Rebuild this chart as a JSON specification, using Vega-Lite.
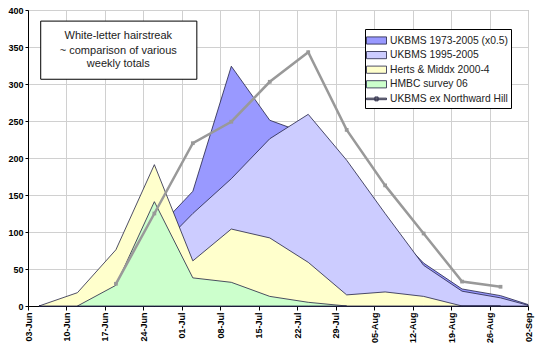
{
  "$schema": "https://vega.github.io/schema/vega-lite/v6.json",
  "width": 500,
  "height": 296,
  "autosize": {"type": "none"},
  "padding": {"left": 28, "top": 10, "right": 11, "bottom": 44},
  "background": "white",
  "config": {
    "font": "Liberation Sans",
    "view": {"stroke": "#999999", "strokeWidth": 1},
    "axis": {
      "labelFont": "Liberation Sans",
      "labelFontWeight": "bold",
      "labelFontSize": 9,
      "labelColor": "#000000",
      "tickColor": "#000000",
      "domainColor": "#000000",
      "gridColor": "#d0d0d0",
      "gridWidth": 1,
      "title": null,
      "labelOverlap": false,
      "labelFlush": false
    }
  },
  "data": {
    "values": [
      {"date": "2007-06-05", "series": "UKBMS 1973-2005 (x0.5)", "value": 0},
      {"date": "2007-06-12", "series": "UKBMS 1973-2005 (x0.5)", "value": 5},
      {"date": "2007-06-19", "series": "UKBMS 1973-2005 (x0.5)", "value": 30},
      {"date": "2007-06-26", "series": "UKBMS 1973-2005 (x0.5)", "value": 100},
      {"date": "2007-07-03", "series": "UKBMS 1973-2005 (x0.5)", "value": 155},
      {"date": "2007-07-10", "series": "UKBMS 1973-2005 (x0.5)", "value": 324},
      {"date": "2007-07-17", "series": "UKBMS 1973-2005 (x0.5)", "value": 251},
      {"date": "2007-07-24", "series": "UKBMS 1973-2005 (x0.5)", "value": 232},
      {"date": "2007-07-31", "series": "UKBMS 1973-2005 (x0.5)", "value": 180},
      {"date": "2007-08-07", "series": "UKBMS 1973-2005 (x0.5)", "value": 112},
      {"date": "2007-08-14", "series": "UKBMS 1973-2005 (x0.5)", "value": 58},
      {"date": "2007-08-21", "series": "UKBMS 1973-2005 (x0.5)", "value": 23},
      {"date": "2007-08-28", "series": "UKBMS 1973-2005 (x0.5)", "value": 14},
      {"date": "2007-09-02", "series": "UKBMS 1973-2005 (x0.5)", "value": 2},

      {"date": "2007-06-05", "series": "UKBMS 1995-2005", "value": 0},
      {"date": "2007-06-12", "series": "UKBMS 1995-2005", "value": 3},
      {"date": "2007-06-19", "series": "UKBMS 1995-2005", "value": 20},
      {"date": "2007-06-26", "series": "UKBMS 1995-2005", "value": 72},
      {"date": "2007-07-03", "series": "UKBMS 1995-2005", "value": 125},
      {"date": "2007-07-10", "series": "UKBMS 1995-2005", "value": 172},
      {"date": "2007-07-17", "series": "UKBMS 1995-2005", "value": 226},
      {"date": "2007-07-24", "series": "UKBMS 1995-2005", "value": 259},
      {"date": "2007-07-31", "series": "UKBMS 1995-2005", "value": 197},
      {"date": "2007-08-07", "series": "UKBMS 1995-2005", "value": 125},
      {"date": "2007-08-14", "series": "UKBMS 1995-2005", "value": 55},
      {"date": "2007-08-21", "series": "UKBMS 1995-2005", "value": 20},
      {"date": "2007-08-28", "series": "UKBMS 1995-2005", "value": 11},
      {"date": "2007-09-02", "series": "UKBMS 1995-2005", "value": 1},

      {"date": "2007-06-05", "series": "Herts & Middx 2000-4", "value": 0},
      {"date": "2007-06-12", "series": "Herts & Middx 2000-4", "value": 18},
      {"date": "2007-06-19", "series": "Herts & Middx 2000-4", "value": 76},
      {"date": "2007-06-26", "series": "Herts & Middx 2000-4", "value": 191},
      {"date": "2007-07-03", "series": "Herts & Middx 2000-4", "value": 61},
      {"date": "2007-07-10", "series": "Herts & Middx 2000-4", "value": 104},
      {"date": "2007-07-17", "series": "Herts & Middx 2000-4", "value": 92},
      {"date": "2007-07-24", "series": "Herts & Middx 2000-4", "value": 59},
      {"date": "2007-07-31", "series": "Herts & Middx 2000-4", "value": 15},
      {"date": "2007-08-07", "series": "Herts & Middx 2000-4", "value": 19},
      {"date": "2007-08-14", "series": "Herts & Middx 2000-4", "value": 13},
      {"date": "2007-08-21", "series": "Herts & Middx 2000-4", "value": 0},
      {"date": "2007-08-28", "series": "Herts & Middx 2000-4", "value": 0},

      {"date": "2007-06-12", "series": "HMBC survey 06", "value": 0},
      {"date": "2007-06-19", "series": "HMBC survey 06", "value": 28},
      {"date": "2007-06-26", "series": "HMBC survey 06", "value": 141},
      {"date": "2007-07-03", "series": "HMBC survey 06", "value": 38},
      {"date": "2007-07-10", "series": "HMBC survey 06", "value": 32},
      {"date": "2007-07-17", "series": "HMBC survey 06", "value": 13},
      {"date": "2007-07-24", "series": "HMBC survey 06", "value": 5},
      {"date": "2007-07-31", "series": "HMBC survey 06", "value": 0},

      {"date": "2007-06-19", "series": "UKBMS ex Northward Hill", "value": 30},
      {"date": "2007-06-26", "series": "UKBMS ex Northward Hill", "value": 125},
      {"date": "2007-07-03", "series": "UKBMS ex Northward Hill", "value": 220},
      {"date": "2007-07-10", "series": "UKBMS ex Northward Hill", "value": 249},
      {"date": "2007-07-17", "series": "UKBMS ex Northward Hill", "value": 303},
      {"date": "2007-07-24", "series": "UKBMS ex Northward Hill", "value": 343},
      {"date": "2007-07-31", "series": "UKBMS ex Northward Hill", "value": 238},
      {"date": "2007-08-07", "series": "UKBMS ex Northward Hill", "value": 163},
      {"date": "2007-08-14", "series": "UKBMS ex Northward Hill", "value": 98},
      {"date": "2007-08-21", "series": "UKBMS ex Northward Hill", "value": 33},
      {"date": "2007-08-28", "series": "UKBMS ex Northward Hill", "value": 26}
    ]
  },
  "encoding": {
    "x": {
      "field": "date",
      "type": "temporal",
      "scale": {
        "type": "utc",
        "nice": false,
        "domain": [
          {"year": 2007, "month": 6, "date": 3, "utc": true},
          {"year": 2007, "month": 9, "date": 2, "utc": true}
        ]
      },
      "axis": {
        "labelExpr": "utcFormat(datum.value, '%d-%b')",
        "labelAngle": 270,
        "tickSize": 4,
        "labelPadding": 2,
        "values": [
          {"year": 2007, "month": 6, "date": 3, "utc": true},
          {"year": 2007, "month": 6, "date": 10, "utc": true},
          {"year": 2007, "month": 6, "date": 17, "utc": true},
          {"year": 2007, "month": 6, "date": 24, "utc": true},
          {"year": 2007, "month": 7, "date": 1, "utc": true},
          {"year": 2007, "month": 7, "date": 8, "utc": true},
          {"year": 2007, "month": 7, "date": 15, "utc": true},
          {"year": 2007, "month": 7, "date": 22, "utc": true},
          {"year": 2007, "month": 7, "date": 29, "utc": true},
          {"year": 2007, "month": 8, "date": 5, "utc": true},
          {"year": 2007, "month": 8, "date": 12, "utc": true},
          {"year": 2007, "month": 8, "date": 19, "utc": true},
          {"year": 2007, "month": 8, "date": 26, "utc": true},
          {"year": 2007, "month": 9, "date": 2, "utc": true}
        ]
      }
    },
    "y": {
      "field": "value",
      "type": "quantitative",
      "stack": null,
      "scale": {"domain": [0, 400], "nice": false},
      "axis": {
        "values": [0, 50, 100, 150, 200, 250, 300, 350, 400],
        "tickSize": 3,
        "labelPadding": 2
      }
    }
  },
  "layer": [
    {
      "transform": [{"filter": "datum.series === 'UKBMS 1973-2005 (x0.5)'"}],
      "mark": {"type": "area", "stroke": "#222244", "strokeWidth": 0.8, "opacity": 1},
      "encoding": {
        "color": {
          "field": "series",
          "type": "nominal",
          "scale": {
            "domain": ["UKBMS 1973-2005 (x0.5)", "UKBMS 1995-2005", "Herts & Middx 2000-4", "HMBC survey 06", "UKBMS ex Northward Hill"],
            "range": ["#9999ff", "#ccccff", "#ffffcc", "#ccffcc", "#999999"]
          },
          "legend": {
            "orient": "none",
            "legendX": 337,
            "legendY": 19,
            "title": null,
            "direction": "vertical",
            "fillColor": "white",
            "strokeColor": "black",
            "padding": 3,
            "cornerRadius": 0,
            "symbolSize": 256,
            "symbolOpacity": 1,
            "symbolType": {"expr": "datum.value === 'UKBMS ex Northward Hill' ? 'M-1.25,-0.1H1.25V0.1H-1.25ZM-0.2,-0.25H0.2V0.25H-0.2Z' : 'M-1.25,-0.45H1.25V0.45H-1.25Z'"},
            "symbolStrokeColor": {"expr": "datum.value === 'UKBMS ex Northward Hill' ? '#999999' : '#222244'"},
            "symbolStrokeWidth": 0.8,
            "labelFont": "Liberation Sans",
            "labelFontSize": 10.3,
            "labelColor": "#222222",
            "labelOffset": 5,
            "rowPadding": 0.6
          }
        }
      }
    },
    {
      "transform": [{"filter": "datum.series === 'UKBMS 1995-2005'"}],
      "mark": {"type": "area", "stroke": "#222244", "strokeWidth": 0.8, "opacity": 1},
      "encoding": {"color": {"field": "series", "type": "nominal"}}
    },
    {
      "transform": [{"filter": "datum.series === 'Herts & Middx 2000-4'"}],
      "mark": {"type": "area", "stroke": "#222244", "strokeWidth": 0.8, "opacity": 1},
      "encoding": {"color": {"field": "series", "type": "nominal"}}
    },
    {
      "transform": [{"filter": "datum.series === 'HMBC survey 06'"}],
      "mark": {"type": "area", "stroke": "#222244", "strokeWidth": 0.8, "opacity": 1},
      "encoding": {"color": {"field": "series", "type": "nominal"}}
    },
    {
      "transform": [{"filter": "datum.series === 'UKBMS ex Northward Hill'"}],
      "mark": {"type": "line", "color": "#999999", "strokeWidth": 2.5},
      "encoding": {}
    },
    {
      "transform": [{"filter": "datum.series === 'UKBMS ex Northward Hill'"}],
      "mark": {"type": "point", "shape": "square", "filled": true, "color": "#999999", "size": 14, "opacity": 1},
      "encoding": {}
    },
    {
      "data": {"values": [{"x": "2007-06-05T07:30:00Z", "x2": "2007-07-03T17:30:00Z", "y": 306.4, "y2": 385}]},
      "mark": {"type": "rect", "fill": "white", "stroke": "black", "strokeWidth": 1},
      "encoding": {
        "x": {"field": "x", "type": "temporal"},
        "x2": {"field": "x2"},
        "y": {"field": "y", "type": "quantitative"},
        "y2": {"field": "y2"}
      }
    },
    {
      "data": {"values": [
        {"x": "2007-06-19T10:30:00Z", "y": 365, "text": "White-letter hairstreak"},
        {"x": "2007-06-19T10:30:00Z", "y": 344, "text": "~ comparison of various"},
        {"x": "2007-06-19T10:30:00Z", "y": 326.5, "text": "weekly totals"}
      ]},
      "mark": {"type": "text", "font": "Liberation Sans", "fontSize": 11, "color": "#222222", "align": "center", "baseline": "middle"},
      "encoding": {
        "x": {"field": "x", "type": "temporal"},
        "y": {"field": "y", "type": "quantitative"},
        "text": {"field": "text"}
      }
    }
  ]
}
